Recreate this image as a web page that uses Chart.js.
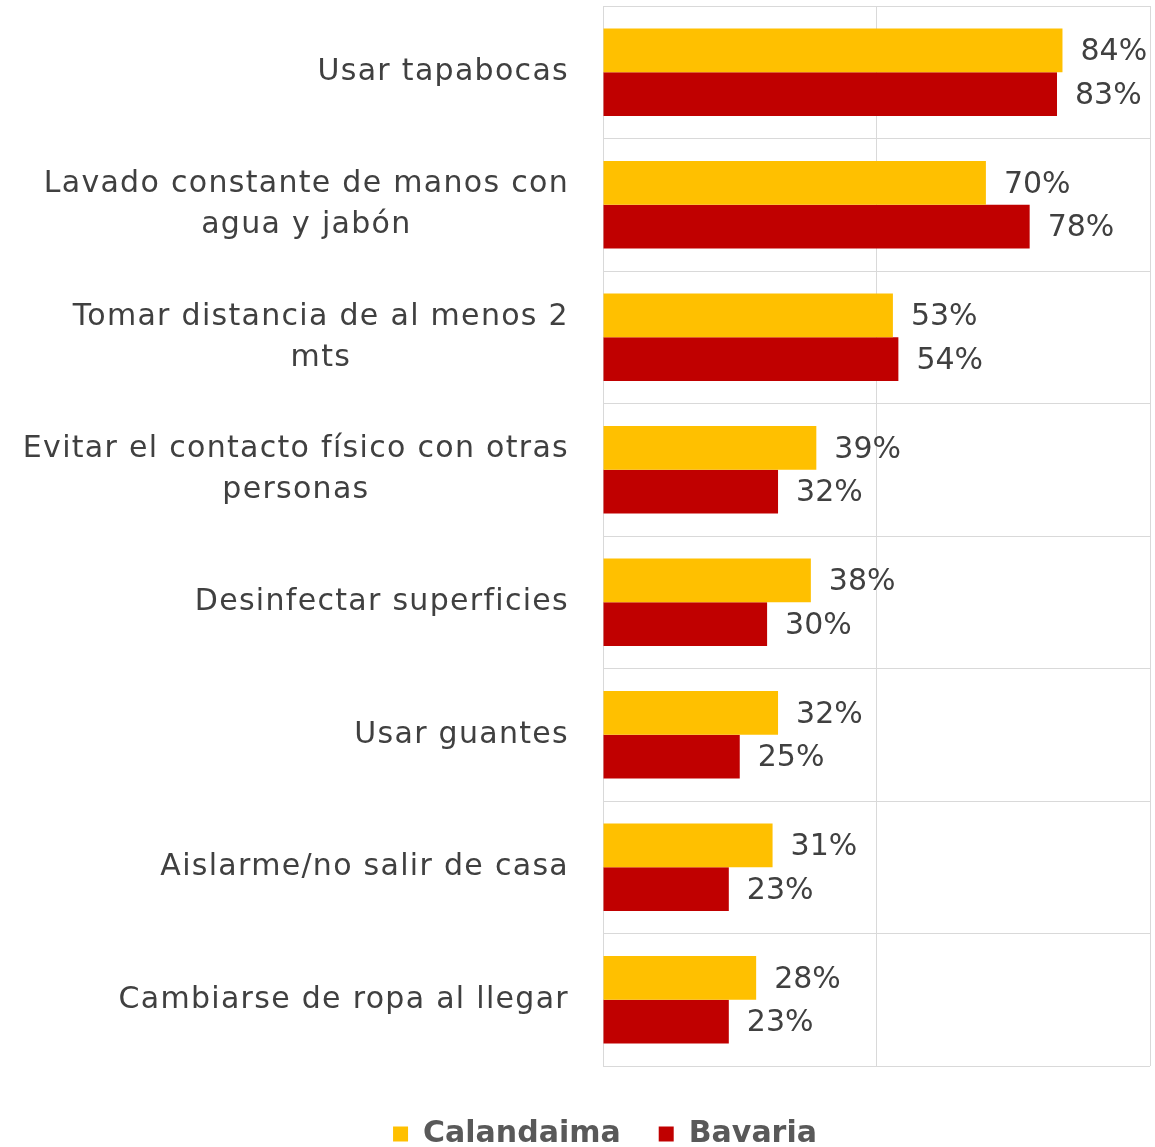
<!DOCTYPE html>
<html>
<head>
<meta charset="utf-8">
<script src="https://cdn.jsdelivr.net/npm/chart.js@4"></script>
<style>
  body { margin: 0; background: #fff; }
  #wrap { width: 1155px; height: 1147px; }
</style>
</head>
<body>
<div id="wrap"><canvas id="chart" width="1155" height="1147"></canvas></div>
<script>
// categorias (lineas de la etiqueta)
const categorias = [
    ['Usar tapabocas'],
    ['Lavado constante de manos con', 'agua y jabón'],
    ['Tomar distancia de al menos 2', 'mts'],
    ['Evitar el contacto físico con otras', 'personas'],
    ['Desinfectar superficies'],
    ['Usar guantes'],
    ['Aislarme/no salir de casa'],
    ['Cambiarse de ropa al llegar']
];
const calandaima = [84, 70, 53, 39, 38, 32, 31, 28];
const bavaria = [83, 78, 54, 32, 30, 25, 23, 23];

const GRIS = '#404040';
const FUENTE = '"DejaVu Sans", sans-serif';
const IZQ = 60; // margen izquierdo para centrar la leyenda como en el original

// etiquetas de categoria: bloque alineado a la derecha, lineas centradas entre si
const etiquetasY = {
    id: 'etiquetasY',
    afterDraw(chart) {
        const { ctx, scales: { y } } = chart;
        ctx.save();
        ctx.font = `30px ${FUENTE}`;
        ctx.letterSpacing = '1.3px';
        ctx.fillStyle = GRIS;
        ctx.textBaseline = 'middle';
        ctx.textAlign = 'center';
        const derecha = 569, alto = 41;
        categorias.forEach((lineas, i) => {
            const yc = y.getPixelForValue(i);
            const ancho = Math.max(...lineas.map(l => ctx.measureText(l).width));
            const xc = derecha - ancho / 2;
            const y0 = yc - (lineas.length - 1) * alto / 2;
            lineas.forEach((l, k) => ctx.fillText(l, xc, y0 + k * alto));
        });
        ctx.restore();
    }
};

// etiquetas de valor al final de cada barra
const etiquetasValor = {
    id: 'etiquetasValor',
    afterDatasetsDraw(chart) {
        const { ctx } = chart;
        ctx.save();
        ctx.font = `30px ${FUENTE}`;
        ctx.fillStyle = GRIS;
        ctx.textBaseline = 'middle';
        ctx.textAlign = 'left';
        chart.data.datasets.forEach((ds, di) => {
            chart.getDatasetMeta(di).data.forEach((bar, i) => {
                ctx.fillText(ds.data[i] + '%', bar.x + 18, bar.y + 2);
            });
        });
        ctx.restore();
    }
};

// baja un poco la leyenda
const bajarLeyenda = {
    id: 'bajarLeyenda',
    afterLayout(chart) {
        if (!chart.legend) return;
        chart.legend.top += 15;
        chart.legend.bottom += 15;
    }
};

new Chart(document.getElementById('chart'), {
    type: 'bar',
    data: {
        labels: categorias.map(c => c.join(' ')),
        datasets: [
            { label: 'Calandaima', data: calandaima, backgroundColor: '#FFC000', barPercentage: 1, categoryPercentage: 0.66 },
            { label: 'Bavaria', data: bavaria, backgroundColor: '#C00000', barPercentage: 1, categoryPercentage: 0.66 }
        ]
    },
    options: {
        indexAxis: 'y',
        responsive: false,
        animation: false,
        layout: { padding: { top: 6, right: 5, left: IZQ, bottom: 3 } },
        scales: {
            x: {
                min: 0, max: 100,
                ticks: { display: false, stepSize: 50 },
                grid: { color: '#d9d9d9', drawTicks: false },
                border: { display: false }
            },
            y: {
                ticks: { display: false },
                grid: { color: '#d9d9d9', drawTicks: false },
                border: { color: '#d9d9d9' },
                afterFit(scale) { scale.width = 603 - IZQ; }
            }
        },
        plugins: {
            tooltip: { enabled: false },
            legend: {
                position: 'bottom',
                labels: {
                    boxWidth: 15,
                    boxHeight: 15,
                    padding: 38,
                    color: '#595959',
                    font: { family: FUENTE, size: 30, weight: 'bold' }
                }
            }
        }
    },
    plugins: [etiquetasY, etiquetasValor, bajarLeyenda]
});
</script>
</body>
</html>
